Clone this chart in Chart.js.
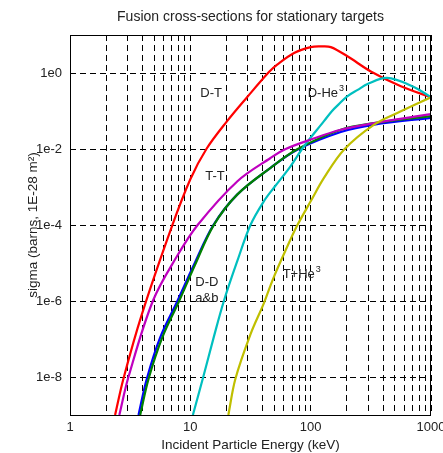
<!DOCTYPE html>
<html>
<head>
<meta charset="utf-8">
<script src="https://cdn.jsdelivr.net/npm/chart.js@4.4.0/dist/chart.umd.min.js"></script>
<style>html,body{margin:0;padding:0;background:#fff}</style>
</head>
<body>
<canvas id="c" width="443" height="453"></canvas>
<script>
// values (energy in keV, sigma in barns)
const dtE   = [2.37, 2.78, 3.96, 7.04, 10, 13.6, 20.2, 29.6, 45, 52.7, 72.8, 100, 121, 147, 202, 316, 562, 1000];
const dtSig = [1e-9, 9e-9, 4.5e-7, 9.3e-5, 1.6e-3, 1.0e-2, 0.054, 0.23, 1.06, 1.66, 3.36, 4.8, 5.0, 4.8, 2.75, 1.1, 0.45, 0.23];

const ttE   = [2.57, 3.06, 4.88, 7.74, 11.5, 24.5, 46.4, 61.9, 100, 178, 337, 1000];
const ttSig = [1e-9, 1e-8, 1e-6, 1.5e-5, 1e-4, 1.4e-3, 5.8e-3, 1e-2, 0.0177, 0.032, 0.048, 0.083];

const ddaE   = [3.71, 4.35, 5.62, 7.74, 10.67, 15.5, 24.5, 46.4, 77.4, 178, 337, 1000];
const ddaSig = [1e-9, 9e-9, 1.1e-7, 9.4e-7, 8.7e-6, 9.8e-5, 6.3e-4, 3.2e-3, 9.6e-3, 0.028, 0.044, 0.066];

const ddbE   = [3.83, 4.5, 5.85, 8.0, 10.9, 15.6, 24.5, 46.4, 77.4, 178, 337, 1000];
const ddbSig = [1e-9, 9e-9, 1.1e-7, 9.4e-7, 8.7e-6, 9.8e-5, 6.3e-4, 3.2e-3, 9.8e-3, 0.032, 0.048, 0.073];

const dhe3E   = [10.5, 12.8, 15.6, 19, 24.5, 31.6, 40.8, 50, 68, 88, 129, 150, 170, 200, 246, 300, 430, 700, 1000];
const dhe3Sig = [1e-9, 1e-8, 1.07e-7, 1e-6, 1.1e-5, 1e-4, 4.2e-4, 1e-3, 3.5e-3, 1.18e-2, 0.054, 0.099, 0.147, 0.24, 0.36, 0.52, 0.74, 0.45, 0.23];

const the3E   = [20.7, 23.7, 31.6, 40.8, 49.3, 68.1, 77.4, 100, 129, 189, 337, 562, 1000];
const the3Sig = [1e-9, 9e-9, 1.33e-7, 8.7e-7, 4.2e-6, 4.2e-5, 9.8e-5, 4.2e-4, 1.73e-3, 9.6e-3, 0.044, 0.098, 0.23];

const energyTicks = [1,2,3,4,5,6,7,8,9,10,20,30,40,50,60,70,80,90,100,200,300,400,500,600,700,800,900,1000];
const energyLabels = {1:'1', 10:'10', 100:'100', 1000:'1000'};
const sigmaTicks = [1e-8, 1e-6, 1e-4, 1e-2, 1];
const sigmaLabels = ['1e-8', '1e-6', '1e-4', '1e-2', '1e0'];

// curve labels: text, superscript, energy, sigma (left edge, middle)
const labelText = ['D-T', 'D-He', 'T-T', 'D-D', 'a&b', 'T+He'];
const labelSup  = ['', '3', '', '', '', '3'];
const labelE    = [12.1, 94.5, 13.3, 11.0, 11.0, 58.5];
const labelSig  = [0.29, 0.29, 1.9e-3, 3.1e-6, 1.2e-6, 5e-6];

const FONT = '"Liberation Sans", Arial, Helvetica, sans-serif';
const TXT = '#222';

const pts = (E, S) => E.map((e, i) => ({x: e, y: S[i]}));
const line = (E, S, col) => ({
  data: pts(E, S), borderColor: col, borderWidth: 2.2, pointRadius: 0,
  fill: false, tension: 0.35
});

const framePlugin = {
  id: 'frame',
  afterDatasetsDraw(chart) {
    const {ctx, chartArea: a, scales} = chart;
    ctx.save();
    ctx.strokeStyle = '#000';
    ctx.lineWidth = 1;
    ctx.strokeRect(a.left + 0.5, a.top + 0.5, a.right - a.left - 1, a.bottom - a.top);
    ctx.fillStyle = TXT;
    ctx.textBaseline = 'middle';
    ctx.textAlign = 'left';
    labelText.forEach((t, i) => {
      const x = scales.x.getPixelForValue(labelE[i]);
      const y = scales.y.getPixelForValue(labelSig[i]);
      ctx.font = '13px ' + FONT;
      ctx.fillText(t, x, y);
      if (labelSup[i]) {
        const w = ctx.measureText(t).width;
        ctx.font = '9px ' + FONT;
        ctx.fillText(labelSup[i], x + w + 1, y - 5);
      }
    });
    ctx.restore();
  }
};

new Chart(document.getElementById('c'), {
  type: 'line',
  data: {
    datasets: [
      line(the3E, the3Sig, '#bfbf00'),
      line(ttE, ttSig, '#bf00bf'),
      line(dhe3E, dhe3Sig, '#00bfbf'),
      line(dtE, dtSig, '#ff0000'),
      line(ddbE, ddbSig, '#008000'),
      line(ddaE, ddaSig, '#0000ff')
    ]
  },
  options: {
    responsive: false,
    animation: false,
    layout: {padding: {left: 0, right: 12, top: 0, bottom: 0}},
    plugins: {
      legend: {display: false},
      tooltip: {enabled: false},
      title: {
        display: true, fullSize: false,
        text: 'Fusion cross-sections for stationary targets',
        color: TXT, font: {family: FONT, size: 14, weight: 'normal'},
        padding: {top: 9.1, bottom: 9.1}
      }
    },
    scales: {
      x: {
        type: 'logarithmic', min: 1, max: 1000,
        afterBuildTicks: s => { s.ticks = energyTicks.map(v => ({value: v})); },
        afterFit: s => { s.height = 38; s.paddingLeft = 0; s.paddingRight = 0; },
        ticks: {
          callback: v => energyLabels[v] || '',
          autoSkip: false, maxRotation: 0, padding: 5,
          color: TXT, font: {family: FONT, size: 13}
        },
        grid: {color: '#000', lineWidth: 1, drawTicks: false},
        border: {display: false, dash: [6, 4]},
        title: {
          display: true, text: 'Incident Particle Energy (keV)',
          color: TXT, font: {family: FONT, size: 13.5}, padding: {top: 0, bottom: 0}
        }
      },
      y: {
        type: 'logarithmic', min: 1e-9, max: 10,
        afterBuildTicks: s => { s.ticks = sigmaTicks.map(v => ({value: v})); },
        afterFit: s => { s.width = 70; },
        ticks: {
          callback: (v, i) => sigmaLabels[i],
          autoSkip: false, padding: 8,
          color: TXT, font: {family: FONT, size: 13}
        },
        grid: {color: '#000', lineWidth: 1, drawTicks: false},
        border: {display: false, dash: [6, 4]},
        title: {
          display: true, text: 'sigma (barns, 1E-28 m\u00b2)',
          color: TXT, font: {family: FONT, size: 13.5}, padding: {top: 25, bottom: 0}
        }
      }
    }
  },
  plugins: [framePlugin]
});
</script>
</body>
</html>
